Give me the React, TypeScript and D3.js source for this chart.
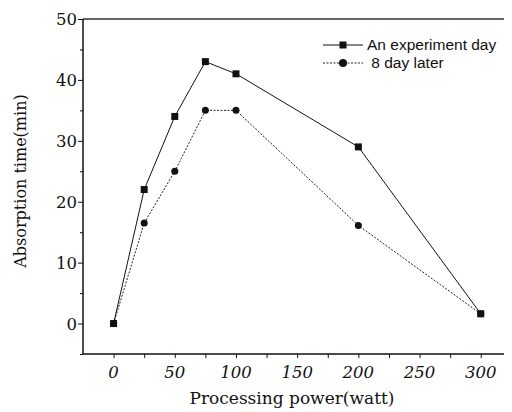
import * as React from "react";
import * as d3 from "d3";

const powers = [0, 25, 50, 75, 100, 200, 300];
const experimentDay = [0, 22, 34, 43, 41, 29, 1.6];
const eightDayLater = [0, 16.5, 25, 35, 35, 16.1, 1.6];
const seriesNames = ["An experiment day", " 8 day later"];
const xTicks = [0, 50, 100, 150, 200, 250, 300];
const yTicks = [0, 10, 20, 30, 40, 50];

export default function App() {
  const ref = React.useRef<SVGSVGElement>(null);

  React.useEffect(() => {
    const svg = d3.select(ref.current);
    svg.selectAll("*").remove();

    const left = 83, right = 504, top = 19, bottom = 354;
    const x = d3.scaleLinear().domain([-25, 319]).range([left, right]);
    const y = d3.scaleLinear().domain([-5, 50]).range([bottom, top]);
    const ink = "#111";
    const serif = "'DejaVu Serif', 'Liberation Serif', serif";
    const sans = "'Liberation Sans', Arial, sans-serif";

    // frame: top line (no right axis in the original)
    svg.append("line").attr("x1", left).attr("x2", right).attr("y1", top).attr("y2", top)
      .attr("stroke", "#333").attr("stroke-width", 1.3);

    const xAxis = svg.append("g").attr("transform", `translate(0,${bottom})`)
      .call(d3.axisBottom(x).tickValues(d3.range(-25, 320, 25)).tickSize(4).tickFormat(() => ""));
    xAxis.select(".domain").attr("d", `M${left},0H${right}`).attr("stroke", ink).attr("stroke-width", 1.3);
    xAxis.selectAll(".tick line").attr("stroke", ink);
    xAxis.selectAll(".tick").filter((d: any) => d === -25).remove();

    svg.append("g").selectAll("text").data(xTicks).enter().append("text")
      .attr("x", d => x(d)).attr("y", bottom + 24)
      .attr("text-anchor", "middle")
      .style("font-family", serif).style("font-size", "16.5px").style("font-style", "italic")
      .attr("fill", ink).text(d => d);

    const yAxis = svg.append("g").attr("transform", `translate(${left},0)`)
      .call(d3.axisLeft(y).tickValues(d3.range(-5, 51, 5)).tickSize(4).tickFormat(() => ""));
    yAxis.select(".domain").attr("d", `M0,${bottom}V${top}`).attr("stroke", ink).attr("stroke-width", 1.5);
    yAxis.selectAll(".tick line").attr("stroke", ink)
      .attr("x2", (d: any) => (d % 10 === 0 ? -5 : -3));

    svg.append("g").selectAll("text").data(yTicks).enter().append("text")
      .attr("x", left - 6).attr("y", d => y(d) + 6)
      .attr("text-anchor", "end")
      .style("font-family", serif).style("font-size", "16.5px")
      .attr("fill", ink).text(d => d);

    svg.append("text")
      .attr("transform", `translate(26,181) rotate(-90)`)
      .attr("text-anchor", "middle")
      .style("font-family", serif).style("font-size", "16px")
      .attr("fill", ink).text("Absorption time(min)");

    svg.append("text")
      .attr("x", 292).attr("y", 404)
      .attr("text-anchor", "middle")
      .style("font-family", serif).style("font-size", "17px")
      .attr("fill", ink).text("Processing power(watt)");

    const line = d3.line<number>().x((d, i) => x(powers[i])).y(d => y(d));

    // 8 day later (dotted, circles)
    svg.append("path").datum(eightDayLater).attr("d", line)
      .attr("fill", "none").attr("stroke", "#222").attr("stroke-width", 1)
      .attr("stroke-dasharray", "2,1.5");
    svg.append("g").selectAll("circle").data(eightDayLater).enter().append("circle")
      .attr("cx", (d, i) => x(powers[i])).attr("cy", d => y(d)).attr("r", 3.5).attr("fill", ink);

    // experiment day (solid, squares)
    svg.append("path").datum(experimentDay).attr("d", line)
      .attr("fill", "none").attr("stroke", ink).attr("stroke-width", 1);
    svg.append("g").selectAll("rect").data(experimentDay).enter().append("rect")
      .attr("x", (d, i) => x(powers[i]) - 3.5).attr("y", d => y(d) - 3.5)
      .attr("width", 7).attr("height", 7).attr("fill", ink);

    // legend
    const legend = svg.append("g").attr("transform", "translate(323,45)");
    legend.append("line").attr("x1", 0).attr("x2", 40).attr("y1", 0).attr("y2", 0)
      .attr("stroke", ink).attr("stroke-width", 1);
    legend.append("rect").attr("x", 16.5).attr("y", -3.5).attr("width", 7).attr("height", 7).attr("fill", ink);
    legend.append("line").attr("x1", 0).attr("x2", 40).attr("y1", 18).attr("y2", 18)
      .attr("stroke", "#222").attr("stroke-width", 1).attr("stroke-dasharray", "2,1.5");
    legend.append("circle").attr("cx", 20).attr("cy", 18).attr("r", 4).attr("fill", ink);
    legend.selectAll("text.legendLabel").data(seriesNames).enter().append("text")
      .classed("legendLabel", true)
      .attr("x", 44).attr("y", (d, i) => i * 18 + 5)
      .style("font-family", sans).style("font-size", "15.5px")
      .style("white-space", "pre")
      .attr("fill", ink).text(d => d);
  }, []);

  return (
    <svg ref={ref} width={512} height={412}
      style={{ position: "absolute", left: 0, top: 0, background: "#fff" }} />
  );
}
